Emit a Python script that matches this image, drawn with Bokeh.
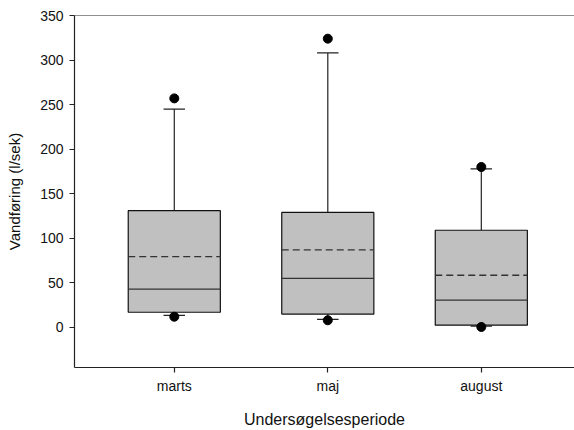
from bokeh.plotting import figure
from bokeh.models import Range1d, FixedTicker, Span
from bokeh.embed import file_html
from bokeh.resources import INLINE

# Data
categories = ["marts", "maj", "august"]
p5 = [12, 8, 0.5]          # lower dots
p10 = [13.5, 9, 1.5]       # lower whisker caps
q1 = [17, 15, 2.5]
median = [43, 55, 30.5]
mean = [79.5, 87, 58.5]
q3 = [131, 129, 109]
p90 = [245, 308, 178]      # upper whisker caps
p95 = [257, 324, 180]      # upper dots
y_ticks = [0, 50, 100, 150, 200, 250, 300, 350]

xs = list(range(1, len(categories) + 1))
box_w = 0.6
cap_w = 0.14

FONT = "Liberation Sans"

p = figure(width=574, height=430, output_backend="svg", toolbar_location=None,
           x_range=Range1d(0.35, 3.607), y_range=Range1d(-45, 350),
           min_border_left=74, min_border_right=0, min_border_top=15, min_border_bottom=63)
p.outline_line_color = None
p.xgrid.visible = False
p.ygrid.visible = False
p.background_fill_color = "white"
p.border_fill_color = "white"

# top frame line
p.add_layout(Span(location=350, dimension="width", line_color="#222222", line_width=1.2))

# whiskers
p.segment(x0=xs, y0=q3, x1=xs, y1=p90, line_color="#222222", line_width=1.2)
p.segment(x0=xs, y0=p10, x1=xs, y1=q1, line_color="#222222", line_width=1.2)
# caps
x_l = [x - cap_w / 2 for x in xs]
x_r = [x + cap_w / 2 for x in xs]
p.segment(x0=x_l, y0=p90, x1=x_r, y1=p90, line_color="#222222", line_width=1.2)
p.segment(x0=x_l, y0=p10, x1=x_r, y1=p10, line_color="#222222", line_width=1.2)

# boxes
p.vbar(x=xs, width=box_w, bottom=q1, top=q3, fill_color="#c0c0c0",
       line_color="#111111", line_width=1.2)

bx_l = [x - box_w / 2 for x in xs]
bx_r = [x + box_w / 2 for x in xs]
p.segment(x0=bx_l, y0=median, x1=bx_r, y1=median, line_color="#333333", line_width=1.3)
p.segment(x0=bx_l, y0=mean, x1=bx_r, y1=mean, line_color="#333333", line_width=1.3,
          line_dash="7 4")

# outlier dots
p.scatter(x=xs, y=p95, size=9, fill_color="black", line_color="black")
p.scatter(x=xs, y=p5, size=9, fill_color="black", line_color="black")

# axes
p.xaxis.ticker = FixedTicker(ticks=xs)
p.xaxis.major_label_overrides = {x: c for x, c in zip(xs, categories)}
p.yaxis.ticker = FixedTicker(ticks=y_ticks)

for ax in (p.xaxis[0], p.yaxis[0]):
    ax.axis_line_color = "#222222"
    ax.axis_line_width = 1.2
    ax.major_tick_line_color = "#222222"
    ax.major_tick_line_width = 1.2
    ax.major_tick_out = 5
    ax.major_tick_in = 0
    ax.minor_tick_line_color = None
    ax.major_label_text_font = FONT
    ax.major_label_text_font_size = "14px"
    ax.major_label_text_color = "#111111"
    ax.axis_label_text_font = FONT
    ax.axis_label_text_font_style = "normal"
    ax.axis_label_text_color = "#111111"

p.yaxis.axis_label = "Vandføring (l/sek)"
p.yaxis.axis_label_text_font_size = "15px"
p.yaxis.major_label_standoff = 6
p.yaxis.axis_label_standoff = 14

p.xaxis.axis_label = "Undersøgelsesperiode"
p.xaxis.axis_label_text_font_size = "16px"
p.xaxis.major_label_standoff = 5
p.xaxis.axis_label_standoff = 14

open("out.html", "w").write(file_html(p, INLINE))
